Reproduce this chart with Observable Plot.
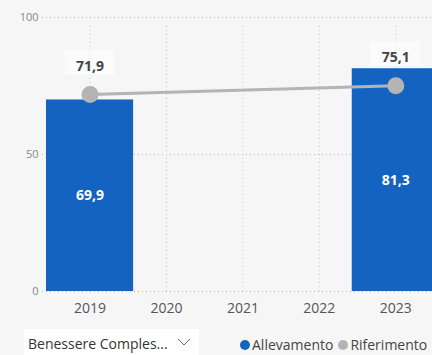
<!DOCTYPE html>
<html>
<head>
<meta charset="utf-8">
<script src="https://cdn.jsdelivr.net/npm/d3@7"></script>
<script src="https://cdn.jsdelivr.net/npm/@observablehq/plot@0.6"></script>
<style>
  html, body { margin: 0; padding: 0; background: #f6f6f6; }
  body { width: 432px; height: 355px; overflow: hidden; position: relative; font-family: "Open Sans", sans-serif; }
  #chart { position: absolute; left: 0; top: 0; }
  #slicer { position: absolute; left: 24px; top: 329px; width: 175px; height: 28px; background: #fff;
    box-sizing: border-box; font-size: 14px; color: #333; padding: 5px 0 0 4px; white-space: nowrap; }
  #slicer svg { position: absolute; right: 8px; top: 9px; }
  #legend { position: absolute; left: 240px; top: 335px; font-size: 14px; color: #444; white-space: nowrap; display: flex; align-items: center; }
  #legend .sw { display: inline-block; width: 10px; height: 10px; border-radius: 50%; margin-right: 2px; }
  #legend .item { display: inline-flex; align-items: center; margin-right: 5px; }
</style>
</head>
<body>
<div id="chart"></div>
<div id="slicer"></div>
<div id="legend"></div>
<script>
// ---- data ----
const years = [2019, 2020, 2021, 2022, 2023];
const allevYears = [2019, 2023];
const allevValues = [69.9, 81.3];
const rifYears = [2019, 2023];
const rifValues = [71.9, 75.1];
const yTicks = [0, 50, 100];
const seriesNames = ["Allevamento", "Riferimento"];
const slicerLabel = "Benessere Comples...";

const allev = allevYears.map((y, i) => ({year: y, value: allevValues[i]}));
const rif = rifYears.map((y, i) => ({year: y, value: rifValues[i]}));
const fmt = v => v.toFixed(1).replace(".", ",");

const blue = "#1563c0";
const gray = "#b4b4b4";
const half = 0.57;

const chart = Plot.plot({
  width: 432,
  height: 325,
  marginLeft: 42,
  marginRight: 0,
  marginTop: 17,
  marginBottom: 34,
  style: {background: "transparent", fontFamily: "Open Sans, sans-serif"},
  x: {domain: [2018.378, 2023.48], axis: null},
  y: {domain: [0, 100], axis: null},
  marks: [
    Plot.gridY(yTicks, {stroke: "#b8b8b8", strokeOpacity: 1, strokeDasharray: "1,3"}),
    Plot.gridX(years, {y1: 0, y2: 97, stroke: "#c8c8c8", strokeOpacity: 1, strokeDasharray: "1,3"}),
    Plot.rect(allev, {x1: d => d.year - half, x2: d => d.year + half, y1: 0, y2: "value", fill: blue, clip: true}),
    Plot.text(allev, {x: "year", y: d => d.value / 2, text: d => fmt(d.value), fill: "white", fontWeight: "bold", fontSize: 14}),
    Plot.rect(rif, {x1: d => d.year - 0.33, x2: d => d.year + 0.33, y1: d => d.value + 7, y2: d => d.value + 16, fill: "white", fillOpacity: 0.5}),
    Plot.line(rif, {x: "year", y: "value", stroke: gray, strokeWidth: 3}),
    Plot.dot(rif, {x: "year", y: "value", r: 8.5, fill: gray}),
    Plot.text(rif, {x: "year", y: "value", dy: -28, text: d => fmt(d.value), fill: "#444", fontWeight: "bold", fontSize: 14}),
    Plot.axisY(yTicks, {tickSize: 0, tickPadding: 4, fontSize: 11, color: "#888", label: null}),
    Plot.axisX(years, {tickSize: 0, tickPadding: 12, fontSize: 14, color: "#555", tickFormat: d => String(d), label: null})
  ]
});
document.getElementById("chart").append(chart);

document.getElementById("slicer").innerHTML = slicerLabel +
  '<svg width="14" height="9"><polyline points="1,1 7,7 13,1" fill="none" stroke="#666" stroke-width="1"/></svg>';

const colors = [blue, gray];
document.getElementById("legend").innerHTML = seriesNames.map((n, i) =>
  `<span class="item"><span class="sw" style="background:${colors[i]}"></span>${n}</span>`).join("");
</script>
</body>
</html>
